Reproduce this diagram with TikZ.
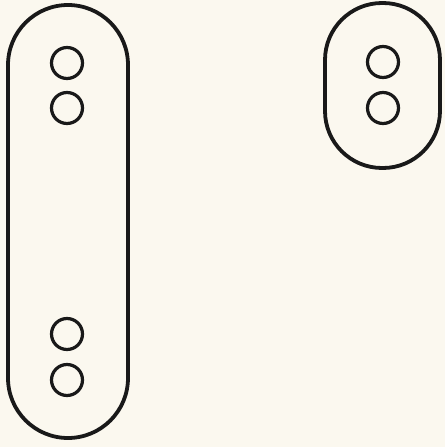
\documentclass[tikz,border=0pt]{standalone}
\usetikzlibrary{backgrounds}
\definecolor{paper}{RGB}{251,248,239}
\begin{document}
\begin{tikzpicture}
		[x=1pt, y=-1pt,
		outline/.style={draw=black!90,line width=3.8pt,rounded corners=#1,inner sep=0pt,outer sep=0pt},
		hole/.style={draw=black!90,circle,line width=3.2pt,minimum size=31pt,inner sep=0pt}
		]

        % page
        \fill[paper] (0,0) rectangle (445,447);
        \useasboundingbox (0,0) rectangle (445,447);

        % long plate
        \node[outline=60pt,minimum width=120pt,minimum height=433pt] (long) at (68,221.5) {};
        \def \x {67}
        \foreach \y/\n in {63/a,108/b,334/c,380/d}
            \node[hole] (long-\n) at (\x,\y) {};

        % short plate
        \node[outline=57pt,minimum width=115pt,minimum height=165pt] (short) at (382.5,85.5) {};
        \def \x {383}
        \foreach \y/\n in {62/a,108/b}
            \node[hole] (short-\n) at (\x,\y) {};
\end{tikzpicture}
\end{document}
